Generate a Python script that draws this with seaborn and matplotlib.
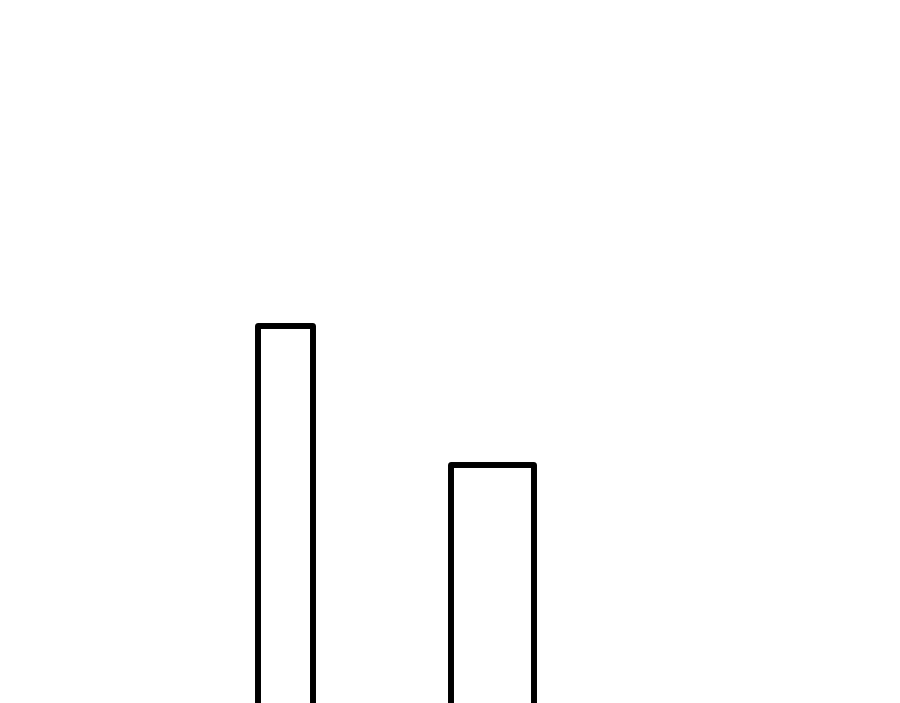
import matplotlib
matplotlib.use("Agg")
import matplotlib.pyplot as plt
import seaborn as sns
import pandas as pd

categories = ["A", "B"]
values = [5.83, 4.05]

df = pd.DataFrame({"category": categories, "value": values})

sns.set_style("white")
fig = plt.figure(figsize=(9, 7.03), dpi=100)
ax = fig.add_axes([0, 0, 1, 1])

sns.barplot(data=df, x="category", y="value", ax=ax, width=0.27,
            fill=False, edgecolor="black", linewidth=4.3, errorbar=None)

bar_widths = [0.266, 0.399]
for patch, w in zip(ax.patches, bar_widths):
    cx = patch.get_x() + patch.get_width() / 2
    patch.set_width(w)
    patch.set_x(cx - w / 2)
    patch.set_joinstyle("round")
    patch.set_facecolor("none")
    patch.set_edgecolor("black")

ax.set_xlim(-1.379, -1.379 + 900 / 207)
ax.set_ylim(1, 10)
ax.axis("off")

fig.savefig("out.png", dpi=100, facecolor="white")
